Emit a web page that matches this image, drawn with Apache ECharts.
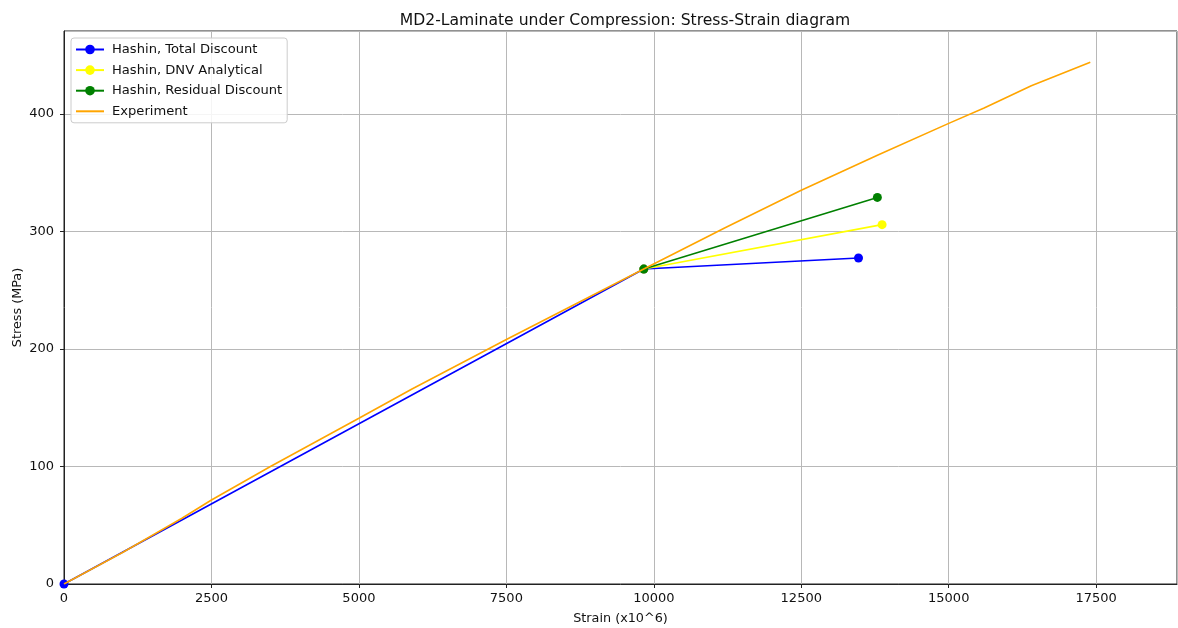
<!DOCTYPE html>
<html>
<head>
<meta charset="utf-8">
<script src="https://cdn.jsdelivr.net/npm/echarts@6/dist/echarts.min.js"></script>
<style>
  html, body { margin: 0; padding: 0; background: #fff; }
  #chart { width: 1178px; height: 628px; }
</style>
</head>
<body>
<div id="chart"></div>
<script>
// Strain in microstrain (x10^6), stress in MPa
const seriesNames = ['Hashin, Total Discount', 'Hashin, DNV Analytical', 'Hashin, Residual Discount', 'Experiment'];

const totalDiscount = [[0, 0], [9830, 268], [13470, 277.4]];
const dnvAnalytical = [[9830, 268], [13870, 305.8]];
const residualDiscount = [[9830, 268], [13790, 329]];
const experiment = [
  [0, 0], [1000, 27], [2000, 56], [2500, 71.5], [3500, 100], [5000, 141],
  [5900, 166], [7500, 208], [9830, 268], [11200, 303], [12500, 335],
  [13800, 365], [15000, 392], [15600, 405], [16400, 424], [17400, 444]
];

const xTicks = [0, 2500, 5000, 7500, 10000, 12500, 15000, 17500];
const yTicks = [0, 100, 200, 300, 400];

const FONT = 'DejaVu Sans';
const chart = echarts.init(document.getElementById('chart'), null, { renderer: 'canvas' });

const hashinSeries = (name, data, color) => ({
  name, type: 'line', data,
  symbol: 'circle', symbolSize: 9,
  lineStyle: { color, width: 1.6 },
  itemStyle: { color },
  z: 3, animation: false
});

chart.setOption({
  backgroundColor: '#fff',
  animation: false,
  title: {
    text: 'MD2-Laminate under Compression: Stress-Strain diagram',
    left: 620, top: 8, textAlign: 'center',
    textStyle: { fontFamily: FONT, fontSize: 15.6, fontWeight: 'normal', color: '#111' }
  },
  legend: {
    orient: 'vertical', left: 71, top: 38,
    itemWidth: 28, itemHeight: 12, itemGap: 7.6,
    padding: [5, 5, 5, 4],
    backgroundColor: 'rgba(255,255,255,0.85)',
    borderColor: '#cccccc', borderWidth: 1, borderRadius: 3,
    textStyle: { fontFamily: FONT, fontSize: 13.1, color: '#111', padding: [0, 0, 0, 3] },
    data: [
      seriesNames[0], seriesNames[1], seriesNames[2],
      { name: seriesNames[3], itemStyle: { opacity: 0 } }
    ]
  },
  grid: {
    left: 64, right: 1, top: 31, bottom: 44,
    outerBoundsMode: 'none', containLabel: false,
    show: true, borderColor: '#222', borderWidth: 1
  },
  xAxis: {
    type: 'value', min: 0, max: 18870, interval: 2500,
    name: 'Strain (x10^6)', nameLocation: 'middle', nameGap: 28,
    nameMoveOverlap: false,
    nameTextStyle: { fontFamily: FONT, fontSize: 12.8, color: '#111' },
    axisLine: { show: true, onZero: false, lineStyle: { color: '#222' } },
    axisTick: { show: true, length: 4, lineStyle: { color: '#222' } },
    axisLabel: {
      fontFamily: FONT, fontSize: 13, color: '#111', margin: 8,
      showMaxLabel: false,
      formatter: v => xTicks.includes(v) ? String(v) : ''
    },
    splitLine: { show: true, lineStyle: { color: '#b8b8b8', width: 1 } }
  },
  yAxis: {
    type: 'value', min: 0, max: 470.6, interval: 100,
    name: 'Stress (MPa)', nameLocation: 'middle', nameGap: 40,
    nameMoveOverlap: false,
    nameTextStyle: { fontFamily: FONT, fontSize: 12.8, color: '#111' },
    axisLine: { show: true, onZero: false, lineStyle: { color: '#222' } },
    axisTick: { show: true, length: 4, lineStyle: { color: '#222' } },
    axisLabel: {
      fontFamily: FONT, fontSize: 13, color: '#111', margin: 10,
      showMaxLabel: false,
      formatter: v => yTicks.includes(v) ? String(v) : ''
    },
    splitLine: { show: true, lineStyle: { color: '#b8b8b8', width: 1 } }
  },
  series: [
    hashinSeries(seriesNames[0], totalDiscount, '#0000ff'),
    hashinSeries(seriesNames[1], dnvAnalytical, '#ffff00'),
    hashinSeries(seriesNames[2], residualDiscount, '#008000'),
    {
      name: seriesNames[3], type: 'line', data: experiment,
      symbol: 'none',
      lineStyle: { color: '#ffa500', width: 1.6 },
      itemStyle: { color: '#ffa500' },
      z: 4, animation: false
    }
  ]
});
</script>
</body>
</html>
